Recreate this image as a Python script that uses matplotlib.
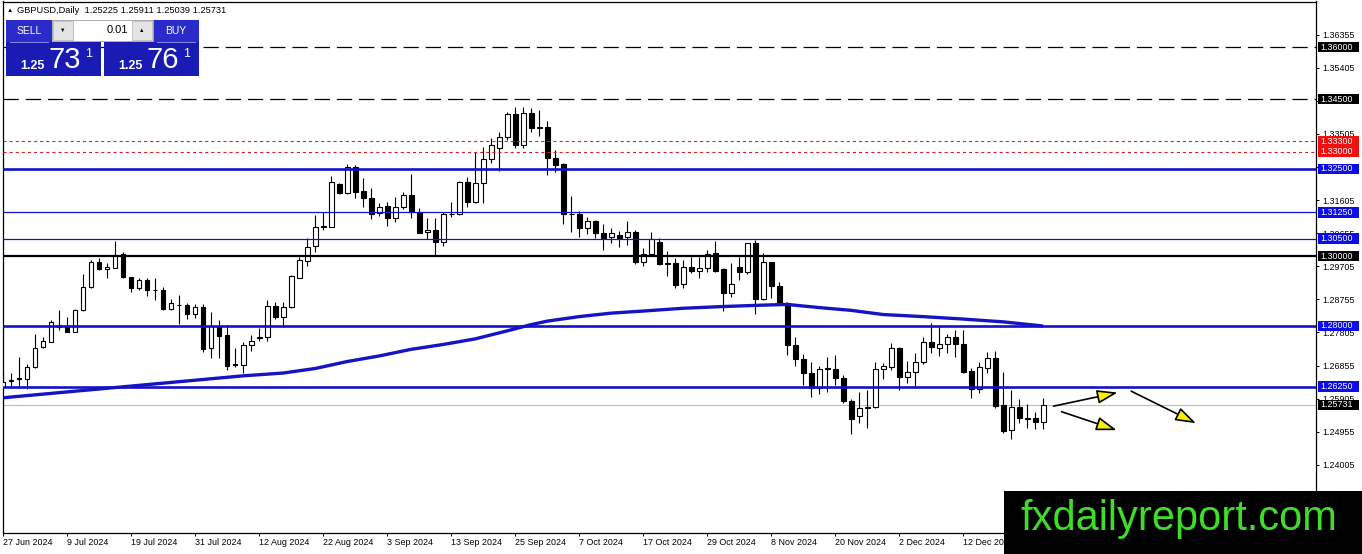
import numpy as np
import matplotlib
matplotlib.use("Agg")
import matplotlib.pyplot as plt
import matplotlib.transforms as mtransforms
from matplotlib.patches import Rectangle

plt.rcParams["font.family"] = ["Liberation Sans", "DejaVu Sans"]
plt.rcParams["lines.scale_dashes"] = False

# GBPUSD daily candles, first bar = 27 Jun 2024
opens = [
    1.2624, 1.2640, 1.2650, 1.2647, 1.2681, 1.2738, 1.2754, 1.2796, 1.2800, 1.2783,
    1.2844, 1.2910, 1.2982, 1.2962, 1.2966, 1.3005, 1.2939, 1.2909, 1.2932, 1.2902,
    1.2902, 1.2847, 1.2859, 1.2859, 1.2833, 1.2853, 1.2735, 1.2800, 1.2773, 1.2689,
    1.2687, 1.2745, 1.2766, 1.2768, 1.2857, 1.2826, 1.2853, 1.2938, 1.2986, 1.3030,
    1.3084, 1.3084, 1.3206, 1.3182, 1.3255, 1.3186, 1.3166, 1.3123, 1.3144, 1.3108,
    1.3140, 1.3175, 1.3126, 1.3068, 1.3075, 1.3039, 1.3121, 1.3121, 1.3212, 1.3154,
    1.3209, 1.3279, 1.3309, 1.3341, 1.3408, 1.3319, 1.3410, 1.3370, 1.3370, 1.3282,
    1.3264, 1.3121, 1.3121, 1.3080, 1.3101, 1.3066, 1.3054, 1.3060, 1.3054, 1.3070,
    1.2984, 1.3006, 1.3041, 1.2979, 1.2979, 1.2919, 1.2969, 1.2958, 1.2965, 1.3008,
    1.2963, 1.2893, 1.2968, 1.2953, 1.3037, 1.2876, 1.2982, 1.2915, 1.2864, 1.2744,
    1.2704, 1.2663, 1.2620, 1.2678, 1.2676, 1.2649, 1.2585, 1.2541, 1.2566, 1.2566,
    1.2675, 1.2682, 1.2735, 1.2652, 1.2668, 1.2697, 1.2754, 1.2735, 1.2747, 1.2767,
    1.2747, 1.2670, 1.2617, 1.2678, 1.2706, 1.2572, 1.2501, 1.2566, 1.2534, 1.2534,
    1.25225]
highs = [
    1.2670, 1.2663, 1.2709, 1.2689, 1.2777, 1.2767, 1.2816, 1.2845, 1.2824, 1.2848,
    1.2948, 1.2989, 1.2993, 1.2979, 1.3043, 1.3011, 1.2941, 1.2936, 1.2938, 1.2938,
    1.2912, 1.2876, 1.2888, 1.2864, 1.2861, 1.2861, 1.2840, 1.2816, 1.2802, 1.2735,
    1.2754, 1.2773, 1.2793, 1.2874, 1.2869, 1.2869, 1.2946, 1.2996, 1.3051, 1.3118,
    1.3127, 1.3230, 1.3209, 1.3263, 1.3261, 1.3223, 1.3196, 1.3153, 1.3154, 1.3170,
    1.3183, 1.3235, 1.3137, 1.3108, 1.3110, 1.3127, 1.3156, 1.3215, 1.3228, 1.3298,
    1.3312, 1.3340, 1.3357, 1.3414, 1.3429, 1.3429, 1.3424, 1.3419, 1.3388, 1.3304,
    1.3268, 1.3172, 1.3130, 1.3111, 1.3103, 1.3091, 1.3080, 1.3072, 1.3101, 1.3075,
    1.3022, 1.3070, 1.3051, 1.3014, 1.2993, 1.2989, 1.2996, 1.2998, 1.3017, 1.3043,
    1.2965, 1.2979, 1.2998, 1.3038, 1.3046, 1.3008, 1.2984, 1.2926, 1.2869, 1.2768,
    1.2719, 1.2695, 1.2684, 1.2711, 1.2716, 1.2658, 1.2589, 1.2610, 1.2615, 1.2697,
    1.2694, 1.2749, 1.2738, 1.2699, 1.2721, 1.2768, 1.2809, 1.2799, 1.2776, 1.2788,
    1.2788, 1.2678, 1.2697, 1.2725, 1.2727, 1.2666, 1.2615, 1.2589, 1.2575, 1.2551,
    1.25911]
lows = [
    1.2612, 1.2620, 1.2628, 1.2618, 1.2678, 1.2737, 1.2752, 1.2788, 1.2781, 1.2781,
    1.2843, 1.2907, 1.2961, 1.2936, 1.2965, 1.2938, 1.2898, 1.2902, 1.2886, 1.2874,
    1.2846, 1.2846, 1.2804, 1.2818, 1.2821, 1.2725, 1.2706, 1.2708, 1.2673, 1.2682,
    1.2663, 1.2727, 1.2756, 1.2756, 1.2819, 1.2797, 1.2850, 1.2936, 1.2972, 1.3011,
    1.3074, 1.3082, 1.3178, 1.3177, 1.3166, 1.3142, 1.3106, 1.3116, 1.3085, 1.3099,
    1.3134, 1.3108, 1.3065, 1.3048, 1.3000, 1.3030, 1.3113, 1.3118, 1.3142, 1.3151,
    1.3151, 1.3266, 1.3244, 1.3333, 1.3309, 1.3309, 1.3357, 1.3345, 1.3233, 1.3242,
    1.3091, 1.3068, 1.3055, 1.3062, 1.3053, 1.3017, 1.3038, 1.3027, 1.3032, 1.2976,
    1.2972, 1.3003, 1.2974, 1.2943, 1.2907, 1.2907, 1.2952, 1.2938, 1.2955, 1.2955,
    1.2842, 1.2883, 1.2931, 1.2948, 1.2833, 1.2874, 1.2880, 1.2859, 1.2716, 1.2684,
    1.2630, 1.2596, 1.2604, 1.2610, 1.2630, 1.2577, 1.2488, 1.2521, 1.2507, 1.2565,
    1.2646, 1.2673, 1.2615, 1.2636, 1.2628, 1.2690, 1.2721, 1.2713, 1.2721, 1.2711,
    1.2665, 1.2592, 1.2608, 1.2665, 1.2563, 1.2493, 1.2475, 1.2520, 1.2505, 1.2503,
    1.25039]
closes = [
    1.2639, 1.2643, 1.2648, 1.2681, 1.2737, 1.2755, 1.2810, 1.2802, 1.2783, 1.2844,
    1.2910, 1.2982, 1.2962, 1.2968, 1.3003, 1.2939, 1.2907, 1.2930, 1.2902, 1.2902,
    1.2847, 1.2864, 1.2858, 1.2833, 1.2855, 1.2733, 1.2800, 1.2771, 1.2685, 1.2688,
    1.2745, 1.2756, 1.2767, 1.2857, 1.2826, 1.2853, 1.2943, 1.2989, 1.3027, 1.3084,
    1.3085, 1.3212, 1.3182, 1.3255, 1.3185, 1.3166, 1.3121, 1.3142, 1.3108, 1.3140,
    1.3175, 1.3127, 1.3067, 1.3075, 1.3039, 1.3121, 1.3122, 1.3212, 1.3154, 1.3209,
    1.3279, 1.3319, 1.3341, 1.3408, 1.3319, 1.3410, 1.3367, 1.3368, 1.3281, 1.3261,
    1.3120, 1.3120, 1.3080, 1.3101, 1.3065, 1.3053, 1.3066, 1.3053, 1.3069, 1.2984,
    1.3006, 1.3049, 1.2977, 1.2978, 1.2917, 1.2969, 1.2957, 1.2965, 1.3005, 1.2958,
    1.2893, 1.2919, 1.2953, 1.3037, 1.2876, 1.2982, 1.2915, 1.2864, 1.2744, 1.2703,
    1.2663, 1.2620, 1.2675, 1.2676, 1.2649, 1.2585, 1.2531, 1.2565, 1.2565, 1.2675,
    1.2684, 1.2735, 1.2652, 1.2668, 1.2697, 1.2754, 1.2740, 1.2747, 1.2767, 1.2747,
    1.2666, 1.2617, 1.2681, 1.2706, 1.2570, 1.2498, 1.2566, 1.2534, 1.2532, 1.2523,
    1.25731]

# date labels, one every 8 bars
date_labels = ["27 Jun 2024", "9 Jul 2024", "19 Jul 2024", "31 Jul 2024",
               "12 Aug 2024", "22 Aug 2024", "3 Sep 2024", "13 Sep 2024",
               "25 Sep 2024", "7 Oct 2024", "17 Oct 2024", "29 Oct 2024",
               "8 Nov 2024", "20 Nov 2024", "2 Dec 2024", "12 Dec 2024"]
label_step = 8

# moving average (bar index -> value)
ma_bars = [0, 10, 20, 30, 35, 39, 43, 47, 51, 55, 59, 63, 66, 68, 72, 76,
           80, 85, 90, 95, 98, 102, 106, 110, 115, 120, 125, 130]
ma_values = [1.2593, 1.2614, 1.2635, 1.2656, 1.2664, 1.2677, 1.2697, 1.2713,
             1.2732, 1.2746, 1.2762, 1.2785, 1.2803, 1.2813, 1.2826, 1.2836,
             1.2842, 1.2850, 1.2855, 1.2859, 1.2861, 1.2852, 1.2844, 1.2832,
             1.2826, 1.2819, 1.2811, 1.2799]

# horizontal levels and their kind
level_prices = [1.36000, 1.34500, 1.33300, 1.33000, 1.32500,
                1.31250, 1.30500, 1.30000, 1.28000, 1.26250]
level_kinds = ["dash", "dash", "red", "red", "blue_thick",
               "blue_thin", "blue_thin", "black", "blue_thick", "blue_thick"]
bid_price = closes[-1]

# arrows drawn on the chart: (bar, price) start -> end
arrow_starts = [(131.3, 1.2569), (132.3, 1.2553), (141.0, 1.2612)]
arrow_ends = [(139.3, 1.2608), (139.2, 1.2500), (149.1, 1.2520)]

symbol = "GBPUSD,Daily"
sell_price = "73"
buy_price = "76"
lot_size = "0.01"

W, H = 1362, 554
fig = plt.figure(figsize=(W / 100, H / 100), dpi=100)
fig.patch.set_facecolor("white")
ax = fig.add_axes([2.5 / W, 21 / H, 1313.5 / W, 531.5 / H])
ax.set_xlim(-0.06, 164.1)
ax.set_ylim(1.22048, 1.37307)

line_blue = "#1212C8"
box_blue = "#0C0CEA"

# candles
x = np.arange(len(opens))
o = np.array(opens)
h = np.array(highs)
l = np.array(lows)
c = np.array(closes)
body_colors = ["white" if cc >= oo else "black" for oo, cc in zip(o, c)]
ax.vlines(x, l, h, color="black", lw=0.8, zorder=2)
ax.bar(x, c - o, bottom=o, width=0.62, color=body_colors,
       edgecolor="black", linewidth=0.8, zorder=3)

# levels
for price, kind in zip(level_prices, level_kinds):
    if kind == "dash":
        ax.axhline(price, color="black", lw=0.9, ls=(0, (11, 5)), zorder=5)
    elif kind == "red":
        ax.axhline(price, color="#D42020", lw=0.8, ls=(0, (2.2, 2.2)), zorder=5)
    elif kind == "blue_thick":
        ax.axhline(price, color=line_blue, lw=1.9, zorder=5)
    elif kind == "blue_thin":
        ax.axhline(price, color=line_blue, lw=0.9, zorder=5)
    else:
        ax.axhline(price, color="black", lw=1.6, zorder=5)
ax.axhline(bid_price, color="#BDBDBD", lw=0.8, zorder=1)

# moving average
ax.plot(ma_bars, ma_values, color="#1414C4", lw=2.4, zorder=6,
        solid_capstyle="butt", solid_joinstyle="round")

# arrows
for s, e in zip(arrow_starts, arrow_ends):
    ax.annotate("", xy=e, xytext=s, zorder=7,
                arrowprops=dict(arrowstyle="-|>,head_length=1.25,head_width=0.42",
                                fc="#F8F000", ec="black", lw=1.2,
                                shrinkA=0, shrinkB=0))

# axes styling
for sp in ax.spines.values():
    sp.set_color("black")
    sp.set_linewidth(0.9)
ax.set_xticks(np.arange(len(date_labels)) * label_step)
ax.set_xticklabels(date_labels)
for t in ax.get_xticklabels():
    t.set_ha("left")
ax.tick_params(axis="x", direction="out", length=2.3, width=0.7,
               pad=1.5, labelsize=6.4, colors="black")
y_ticks = np.round(np.arange(1.23055, 1.3700, 0.0095), 5)
ax.yaxis.tick_right()
ax.set_yticks(y_ticks)
ax.set_yticklabels([f"{v:.5f}" for v in y_ticks])
ax.tick_params(axis="y", direction="out", length=2.3, width=0.7,
               pad=2.0, labelsize=6.4, colors="black")

# price labels on the right axis
trans = mtransforms.blended_transform_factory(fig.transFigure, ax.transData)
label_bg = {"dash": "black", "red": "#F01010", "blue_thick": box_blue,
            "blue_thin": box_blue, "black": "black"}
for price, kind in list(zip(level_prices, level_kinds)) + [(bid_price, "black")]:
    ax.add_patch(Rectangle((1317.5 / W, price - 0.00148), 41.5 / W, 0.00296,
                           transform=trans, facecolor=label_bg[kind],
                           edgecolor="none", clip_on=False, zorder=10))
    ax.text(1320 / W, price, f"{price:.5f}", transform=trans, color="white",
            fontsize=6.4, va="center", ha="left", clip_on=False, zorder=11)

# overlay in pixel coordinates: header, trade panel, watermark
ov = fig.add_axes([0, 0, 1, 1], zorder=5)
ov.set_xlim(0, W)
ov.set_ylim(H, 0)
ov.axis("off")
ov.patch.set_visible(False)

ov.text(7, 10.5, "▲", fontsize=4.5, va="center", ha="left", color="black")
header = f"{symbol}  {opens[-1]:.5f} {highs[-1]:.5f} {lows[-1]:.5f} {closes[-1]:.5f}"
ov.text(17, 10.5, header, fontsize=6.7, va="center", ha="left", color="black")

panel_top = "#2B2BCB"
panel_low = "#1A1AB4"
ov.add_patch(Rectangle((6, 20), 46, 22, facecolor=panel_top, edgecolor="none"))
ov.add_patch(Rectangle((153, 20), 46, 22, facecolor=panel_top, edgecolor="none"))
ov.add_patch(Rectangle((6, 42), 95, 34, facecolor=panel_low, edgecolor="none"))
ov.add_patch(Rectangle((104, 42), 95, 34, facecolor=panel_low, edgecolor="none"))
ov.plot([10, 48], [41.5, 41.5], color="#8A8AE6", lw=0.7)
ov.plot([157, 195], [41.5, 41.5], color="#8A8AE6", lw=0.7)
ov.add_patch(Rectangle((52, 19.5), 101, 21, facecolor="white", edgecolor="#A0A0A0", lw=0.6))
ov.add_patch(Rectangle((53, 20.5), 20, 19, facecolor="#E4E4E4", edgecolor="#B0B0B0", lw=0.5))
ov.add_patch(Rectangle((132, 20.5), 20, 19, facecolor="#E4E4E4", edgecolor="#B0B0B0", lw=0.5))
ov.text(63, 30, "▼", fontsize=4, ha="center", va="center", color="black")
ov.text(142, 30, "▲", fontsize=4, ha="center", va="center", color="black")
ov.text(128, 30, lot_size, fontsize=8, ha="right", va="center", color="black")
ov.text(29, 30.5, "SELL", fontsize=7.5, ha="center", va="center", color="white")
ov.text(176, 30.5, "BUY", fontsize=7.5, ha="center", va="center", color="white")
for x0, big in [(20, sell_price), (118, buy_price)]:
    ov.text(x0, 69, "1.25", fontsize=9, fontweight="bold", ha="left",
            va="baseline", color="white")
    ov.text(x0 + 29, 68, big, fontsize=21, ha="left", va="baseline", color="white")
    ov.text(x0 + 65, 57, "1", fontsize=9, ha="left", va="baseline", color="white")

ov.add_patch(Rectangle((1004, 491), 358, 63, facecolor="black", edgecolor="none"))
ov.text(1020, 530, "fxdailyreport.com", fontsize=30, ha="left", va="baseline",
        color="#3FDC2A")

fig.savefig("out.png", dpi=100)
